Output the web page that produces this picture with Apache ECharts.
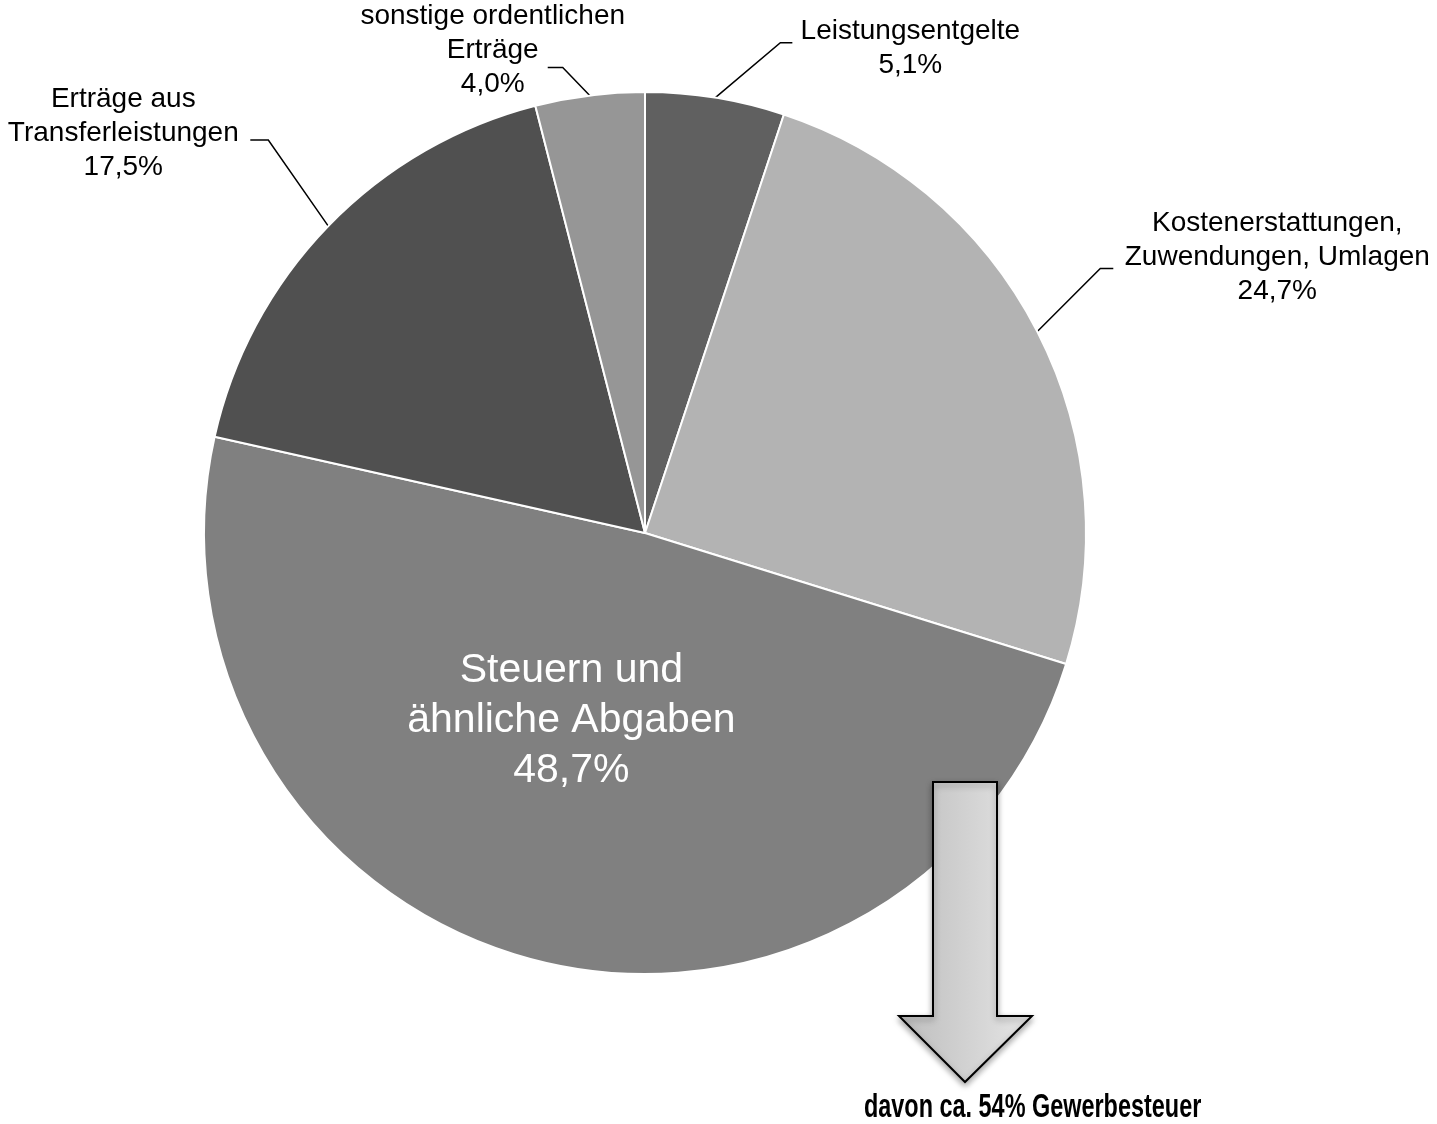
<!DOCTYPE html>
<html>
<head>
<meta charset="utf-8">
<title>Erträge</title>
<script src="https://cdn.jsdelivr.net/npm/echarts@6/dist/echarts.min.js"></script>
<style>
  html, body { margin: 0; padding: 0; background: #fff; }
  #chart { width: 1437px; height: 1124px; }
</style>
</head>
<body>
<div id="chart"></div>
<script>
// Daten
const categories = [
  'Leistungsentgelte',
  'Kostenerstattungen,\nZuwendungen, Umlagen',
  'Steuern und\nähnliche Abgaben',
  'Erträge aus\nTransferleistungen',
  'sonstige ordentlichen\nErträge'
];
const shares = [5.1, 24.7, 48.7, 17.5, 4.0];
const noteText = 'davon ca. 54% Gewerbesteuer';

const sliceColors = ['#606060', '#b3b3b3', '#808080', '#505050', '#969696'];

// where Excel put the labels, relative to the point where the line leaves the slice
const placement = [
  { elbow: [65, -55], tail: 12, center: [195, -49] },
  { elbow: [63, -63], tail: 13, center: [240, -74] },
  null,
  { elbow: [-60, -86], tail: -18, center: [-205, -93] },
  { elbow: [-27, -28], tail: -15, center: [-97, -45] }
];

const fmt = v => v.toFixed(1).replace('.', ',') + '%';

const chartDom = document.getElementById('chart');
const myChart = echarts.init(chartDom);

const option = {
  animation: false,
  textStyle: { fontFamily: '"Liberation Sans", Arial, sans-serif' },
  graphic: [
    {
      type: 'polygon',
      shape: {
        points: [[933, 782], [997, 782], [997, 1016], [1032, 1016], [965, 1082], [899, 1016], [933, 1016]]
      },
      style: {
        fill: new echarts.graphic.LinearGradient(0, 0, 1, 0, [
          { offset: 0, color: '#bdbdbd' },
          { offset: 1, color: '#e6e6e6' }
        ]),
        stroke: '#000',
        lineWidth: 2,
        shadowBlur: 6,
        shadowOffsetY: 3,
        shadowColor: 'rgba(0,0,0,0.35)'
      },
      z: 10
    },
    {
      // the note in the original is set in a narrow face
      type: 'text',
      x: 864,
      y: 1091,
      scaleX: 0.71,
      style: {
        text: noteText,
        fill: '#000',
        font: 'bold 33px "Liberation Sans", Arial, sans-serif',
        verticalAlign: 'top'
      },
      z: 10
    }
  ],
  series: [
    {
      type: 'pie',
      center: [645, 533],
      radius: 441,
      startAngle: 90,
      clockwise: true,
      avoidLabelOverlap: false,
      itemStyle: { borderColor: '#fff', borderWidth: 2 },
      label: {
        show: true,
        position: 'outside',
        overflow: 'none',
        color: '#000',
        fontSize: 28,
        lineHeight: 34,
        align: 'center',
        formatter: p => p.name + '\n' + fmt(p.value)
      },
      labelLine: {
        show: true,
        length: 20,
        length2: 15,
        lineStyle: { color: '#000', width: 1.5 }
      },
      labelLayout: function (params) {
        const p = placement[params.dataIndex];
        if (!p) {
          return { dx: -16, dy: -28 };
        }
        const a = params.labelLinePoints[0];
        const b = [a[0] + p.elbow[0], a[1] + p.elbow[1]];
        const c = [b[0] + p.tail, b[1]];
        return {
          x: a[0] + p.center[0],
          y: a[1] + p.center[1],
          align: 'center',
          verticalAlign: 'middle',
          labelLinePoints: [a, b, c]
        };
      },
      data: categories.map((name, i) => {
        const item = { name: name, value: shares[i], itemStyle: { color: sliceColors[i] } };
        if (i === 2) {
          item.label = { position: 'inside', color: '#fff', fontSize: 41, lineHeight: 50 };
          item.labelLine = { show: false };
        }
        return item;
      })
    }
  ]
};

option && myChart.setOption(option);
</script>
</body>
</html>
